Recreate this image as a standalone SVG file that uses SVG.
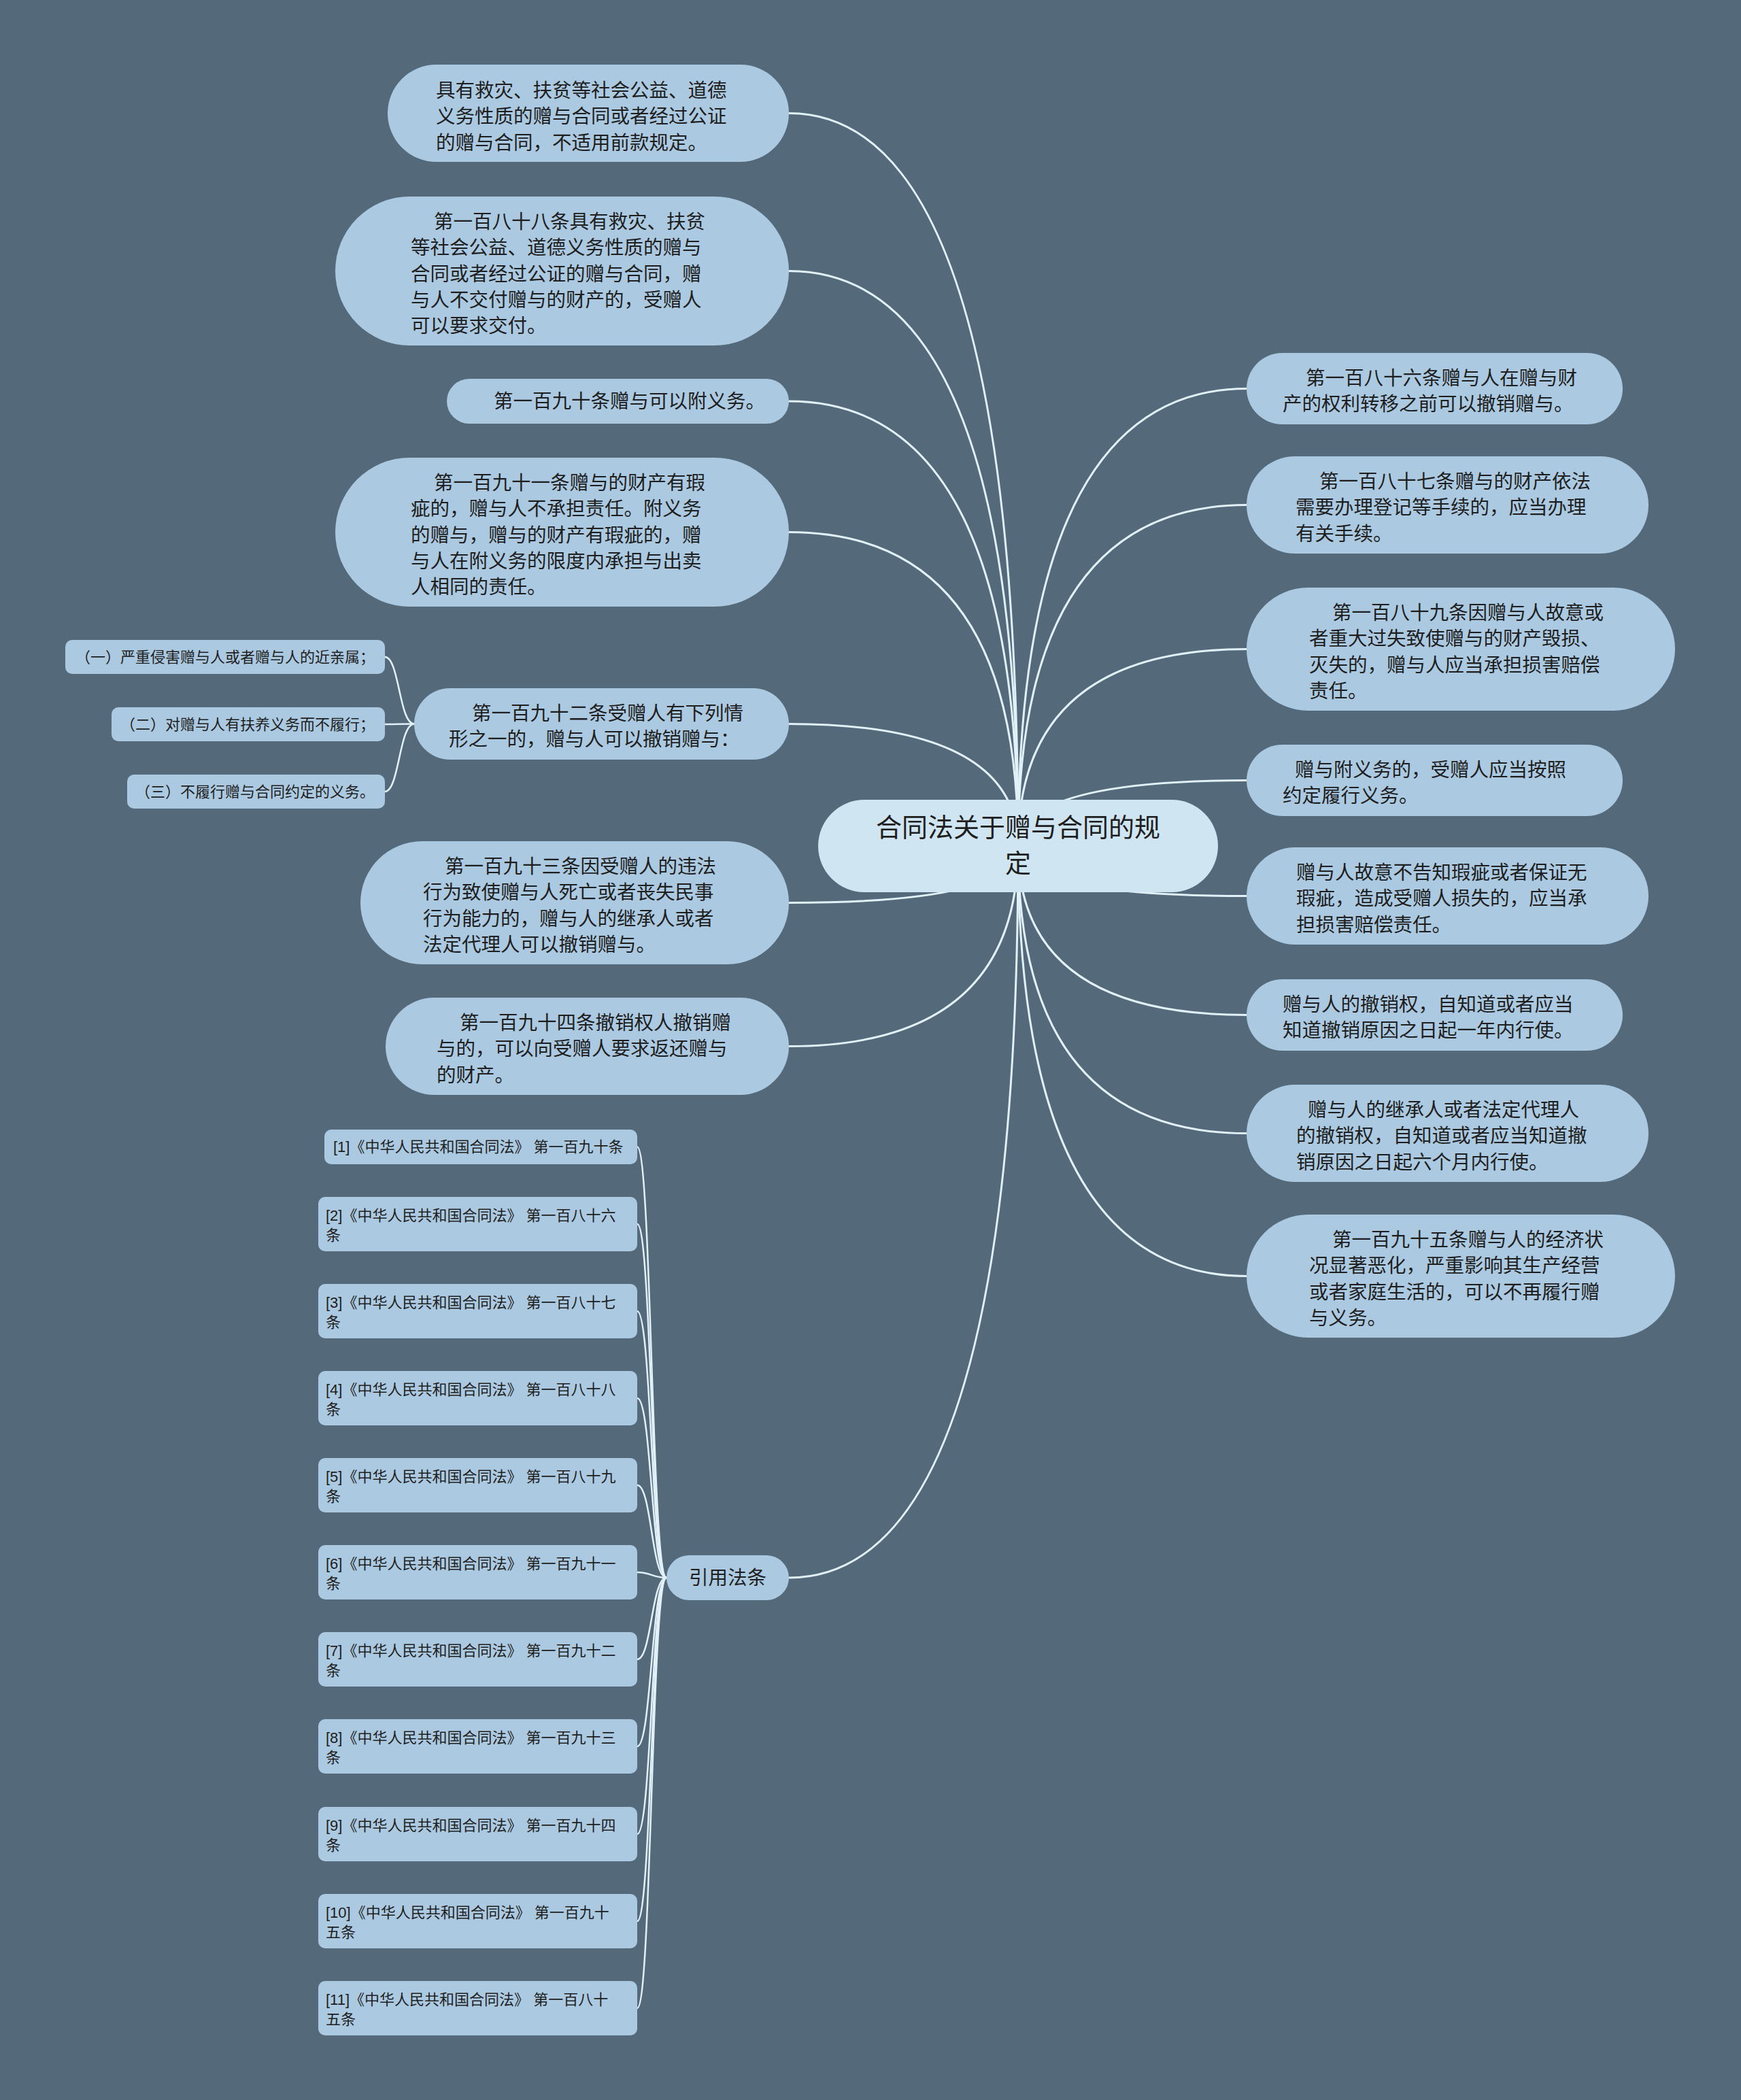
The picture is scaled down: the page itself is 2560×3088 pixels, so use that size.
<svg xmlns="http://www.w3.org/2000/svg" width="2560" height="3088" viewBox="0 0 2560 3088">
<style>
.node{fill:#abc9e0}
.root{fill:#cfe5f2}
text{font-family:"Liberation Sans","Noto Sans CJK SC",sans-serif;fill:#1e1e1e;dominant-baseline:central}
.t{font-size:28.5px}
.ts{font-size:22px}
.tt{font-size:38px}
.ln{fill:none;stroke:#e2f1f8;stroke-width:3;stroke-linecap:round}
.ln2{fill:none;stroke:#e2f1f8;stroke-width:2.5;stroke-linecap:round}
</style>
<rect x="0" y="0" width="2560" height="3088" fill="#546a7a"/>
<g id="connectors">
<path class="ln" d="M1497 1245 Q1497 166.5 1160 166.5"/>
<path class="ln" d="M1497 1245 Q1497 398.5 1160 398.5"/>
<path class="ln" d="M1497 1245 Q1497 590 1160 590"/>
<path class="ln" d="M1497 1245 Q1497 782.5 1160 782.5"/>
<path class="ln" d="M1497 1245 Q1497 1064.5 1160 1064.5"/>
<path class="ln" d="M1497 1245 Q1497 1327.5 1160 1327.5"/>
<path class="ln" d="M1497 1245 Q1497 1538.5 1160 1538.5"/>
<path class="ln" d="M1497 1245 Q1497 2320 1160 2320"/>
<path class="ln" d="M1497 1245 Q1497 571.5 1833 571.5"/>
<path class="ln" d="M1497 1245 Q1497 742.5 1833 742.5"/>
<path class="ln" d="M1497 1245 Q1497 954.5 1833 954.5"/>
<path class="ln" d="M1497 1245 Q1497 1147.5 1833 1147.5"/>
<path class="ln" d="M1497 1245 Q1497 1317.5 1833 1317.5"/>
<path class="ln" d="M1497 1245 Q1497 1492.5 1833 1492.5"/>
<path class="ln" d="M1497 1245 Q1497 1666.5 1833 1666.5"/>
<path class="ln" d="M1497 1245 Q1497 1876.5 1833 1876.5"/>
<path class="ln2" d="M609 1064.5 C587 1064.5 587 966 566 966"/>
<path class="ln2" d="M609 1064.5 C587 1064.5 587 1065 566 1065"/>
<path class="ln2" d="M609 1064.5 C587 1064.5 587 1164 566 1164"/>
<path class="ln2" d="M980 2320 C958 2320 958 1686.5 937 1686.5"/>
<path class="ln2" d="M980 2320 C958 2320 958 1800 937 1800"/>
<path class="ln2" d="M980 2320 C958 2320 958 1928 937 1928"/>
<path class="ln2" d="M980 2320 C958 2320 958 2056 937 2056"/>
<path class="ln2" d="M980 2320 C958 2320 958 2184 937 2184"/>
<path class="ln2" d="M980 2320 C958 2320 958 2312 937 2312"/>
<path class="ln2" d="M980 2320 C958 2320 958 2440 937 2440"/>
<path class="ln2" d="M980 2320 C958 2320 958 2568 937 2568"/>
<path class="ln2" d="M980 2320 C958 2320 958 2697 937 2697"/>
<path class="ln2" d="M980 2320 C958 2320 958 2825 937 2825"/>
<path class="ln2" d="M980 2320 C958 2320 958 2953 937 2953"/>
</g>
<g id="root">
<rect class="root" x="1203" y="1176" width="588" height="136" rx="68"/>
<text class="tt" text-anchor="middle"><tspan x="1497" y="1217">合同法关于赠与合同的规</tspan><tspan x="1497" y="1270">定</tspan></text>
</g>
<g id="n1">
<rect class="node" x="570" y="95" width="590" height="143" rx="71.5"/>
<text class="t"><tspan x="641" y="133">具有救灾、扶贫等社会公益、道德</tspan><tspan x="641" y="171.3">义务性质的赠与合同或者经过公证</tspan><tspan x="641" y="209.6">的赠与合同，不适用前款规定。</tspan></text>
</g>
<g id="n2">
<rect class="node" x="493" y="289" width="667" height="219" rx="109.5"/>
<text class="t"><tspan x="638" y="326">第一百八十八条具有救灾、扶贫</tspan><tspan x="604" y="364.3">等社会公益、道德义务性质的赠与</tspan><tspan x="604" y="402.6">合同或者经过公证的赠与合同，赠</tspan><tspan x="604" y="440.9">与人不交付赠与的财产的，受赠人</tspan><tspan x="604" y="479.2">可以要求交付。</tspan></text>
</g>
<g id="n3">
<rect class="node" x="657" y="557" width="503" height="66" rx="33"/>
<text class="t"><tspan x="726" y="590">第一百九十条赠与可以附义务。</tspan></text>
</g>
<g id="n4">
<rect class="node" x="493" y="673" width="667" height="219" rx="109.5"/>
<text class="t"><tspan x="638" y="710">第一百九十一条赠与的财产有瑕</tspan><tspan x="604" y="748.3">疵的，赠与人不承担责任。附义务</tspan><tspan x="604" y="786.6">的赠与，赠与的财产有瑕疵的，赠</tspan><tspan x="604" y="824.9">与人在附义务的限度内承担与出卖</tspan><tspan x="604" y="863.2">人相同的责任。</tspan></text>
</g>
<g id="n5">
<rect class="node" x="609" y="1012" width="551" height="105" rx="52.5"/>
<text class="t"><tspan x="694" y="1049">第一百九十二条受赠人有下列情</tspan><tspan x="660" y="1087.3">形之一的，赠与人可以撤销赠与：</tspan></text>
</g>
<g id="c1">
<rect class="node" x="96" y="941" width="470" height="50" rx="10"/>
<text class="ts" x="551" y="966" text-anchor="end">（一）严重侵害赠与人或者赠与人的近亲属；</text>
</g>
<g id="c2">
<rect class="node" x="164" y="1040" width="402" height="50" rx="10"/>
<text class="ts" x="551" y="1065" text-anchor="end">（二）对赠与人有扶养义务而不履行；</text>
</g>
<g id="c3">
<rect class="node" x="187" y="1139" width="379" height="50" rx="10"/>
<text class="ts" x="551" y="1164" text-anchor="end">（三）不履行赠与合同约定的义务。</text>
</g>
<g id="n6">
<rect class="node" x="530" y="1237" width="630" height="181" rx="90.5"/>
<text class="t"><tspan x="654" y="1274">第一百九十三条因受赠人的违法</tspan><tspan x="622" y="1312.3">行为致使赠与人死亡或者丧失民事</tspan><tspan x="622" y="1350.6">行为能力的，赠与人的继承人或者</tspan><tspan x="622" y="1388.9">法定代理人可以撤销赠与。</tspan></text>
</g>
<g id="n7">
<rect class="node" x="567" y="1467" width="593" height="143" rx="71.5"/>
<text class="t"><tspan x="676" y="1504">第一百九十四条撤销权人撤销赠</tspan><tspan x="642" y="1542.3">与的，可以向受赠人要求返还赠与</tspan><tspan x="642" y="1580.6">的财产。</tspan></text>
</g>
<g id="n8">
<rect class="node" x="980" y="2287" width="180" height="66" rx="33"/>
<text class="t" x="1070" y="2320" text-anchor="middle">引用法条</text>
</g>
<g id="m1">
<rect class="node" x="1833" y="519" width="553" height="105" rx="52.5"/>
<text class="t"><tspan x="1920" y="556">第一百八十六条赠与人在赠与财</tspan><tspan x="1886" y="594.3">产的权利转移之前可以撤销赠与。</tspan></text>
</g>
<g id="m2">
<rect class="node" x="1833" y="671" width="591" height="143" rx="71.5"/>
<text class="t"><tspan x="1940" y="708">第一百八十七条赠与的财产依法</tspan><tspan x="1905" y="746.3">需要办理登记等手续的，应当办理</tspan><tspan x="1905" y="784.6">有关手续。</tspan></text>
</g>
<g id="m3">
<rect class="node" x="1833" y="864" width="630" height="181" rx="90.5"/>
<text class="t"><tspan x="1959" y="901">第一百八十九条因赠与人故意或</tspan><tspan x="1925" y="939.3">者重大过失致使赠与的财产毁损、</tspan><tspan x="1925" y="977.6">灭失的，赠与人应当承担损害赔偿</tspan><tspan x="1925" y="1015.9">责任。</tspan></text>
</g>
<g id="m4">
<rect class="node" x="1833" y="1095" width="553" height="105" rx="52.5"/>
<text class="t"><tspan x="1904" y="1132">赠与附义务的，受赠人应当按照</tspan><tspan x="1886" y="1170.3">约定履行义务。</tspan></text>
</g>
<g id="m5">
<rect class="node" x="1833" y="1246" width="591" height="143" rx="71.5"/>
<text class="t"><tspan x="1906" y="1283">赠与人故意不告知瑕疵或者保证无</tspan><tspan x="1906" y="1321.3">瑕疵，造成受赠人损失的，应当承</tspan><tspan x="1906" y="1359.6">担损害赔偿责任。</tspan></text>
</g>
<g id="m6">
<rect class="node" x="1833" y="1440" width="553" height="105" rx="52.5"/>
<text class="t"><tspan x="1886" y="1477">赠与人的撤销权，自知道或者应当</tspan><tspan x="1886" y="1515.3">知道撤销原因之日起一年内行使。</tspan></text>
</g>
<g id="m7">
<rect class="node" x="1833" y="1595" width="591" height="143" rx="71.5"/>
<text class="t"><tspan x="1923" y="1632">赠与人的继承人或者法定代理人</tspan><tspan x="1906" y="1670.3">的撤销权，自知道或者应当知道撤</tspan><tspan x="1906" y="1708.6">销原因之日起六个月内行使。</tspan></text>
</g>
<g id="m8">
<rect class="node" x="1833" y="1786" width="630" height="181" rx="90.5"/>
<text class="t"><tspan x="1959" y="1823">第一百九十五条赠与人的经济状</tspan><tspan x="1925" y="1861.3">况显著恶化，严重影响其生产经营</tspan><tspan x="1925" y="1899.6">或者家庭生活的，可以不再履行赠</tspan><tspan x="1925" y="1937.9">与义务。</tspan></text>
</g>
<g id="r1">
<rect class="node" x="477" y="1661" width="460" height="51" rx="10"/>
<text class="ts" x="490" y="1686.5">[1]《中华人民共和国合同法》 第一百九十条</text>
</g>
<g id="r2">
<rect class="node" x="468" y="1760" width="469" height="80" rx="10"/>
<text class="ts"><tspan x="479" y="1787">[2]《中华人民共和国合同法》 第一百八十六</tspan><tspan x="479" y="1815.5">条</tspan></text>
</g>
<g id="r3">
<rect class="node" x="468" y="1888" width="469" height="80" rx="10"/>
<text class="ts"><tspan x="479" y="1915">[3]《中华人民共和国合同法》 第一百八十七</tspan><tspan x="479" y="1943.5">条</tspan></text>
</g>
<g id="r4">
<rect class="node" x="468" y="2016" width="469" height="80" rx="10"/>
<text class="ts"><tspan x="479" y="2043">[4]《中华人民共和国合同法》 第一百八十八</tspan><tspan x="479" y="2071.5">条</tspan></text>
</g>
<g id="r5">
<rect class="node" x="468" y="2144" width="469" height="80" rx="10"/>
<text class="ts"><tspan x="479" y="2171">[5]《中华人民共和国合同法》 第一百八十九</tspan><tspan x="479" y="2199.5">条</tspan></text>
</g>
<g id="r6">
<rect class="node" x="468" y="2272" width="469" height="80" rx="10"/>
<text class="ts"><tspan x="479" y="2299">[6]《中华人民共和国合同法》 第一百九十一</tspan><tspan x="479" y="2327.5">条</tspan></text>
</g>
<g id="r7">
<rect class="node" x="468" y="2400" width="469" height="80" rx="10"/>
<text class="ts"><tspan x="479" y="2427">[7]《中华人民共和国合同法》 第一百九十二</tspan><tspan x="479" y="2455.5">条</tspan></text>
</g>
<g id="r8">
<rect class="node" x="468" y="2528" width="469" height="80" rx="10"/>
<text class="ts"><tspan x="479" y="2555">[8]《中华人民共和国合同法》 第一百九十三</tspan><tspan x="479" y="2583.5">条</tspan></text>
</g>
<g id="r9">
<rect class="node" x="468" y="2657" width="469" height="80" rx="10"/>
<text class="ts"><tspan x="479" y="2684">[9]《中华人民共和国合同法》 第一百九十四</tspan><tspan x="479" y="2712.5">条</tspan></text>
</g>
<g id="r10">
<rect class="node" x="468" y="2785" width="469" height="80" rx="10"/>
<text class="ts"><tspan x="479" y="2812">[10]《中华人民共和国合同法》 第一百九十</tspan><tspan x="479" y="2840.5">五条</tspan></text>
</g>
<g id="r11">
<rect class="node" x="468" y="2913" width="469" height="80" rx="10"/>
<text class="ts"><tspan x="479" y="2940">[11]《中华人民共和国合同法》 第一百八十</tspan><tspan x="479" y="2968.5">五条</tspan></text>
</g>
</svg>
